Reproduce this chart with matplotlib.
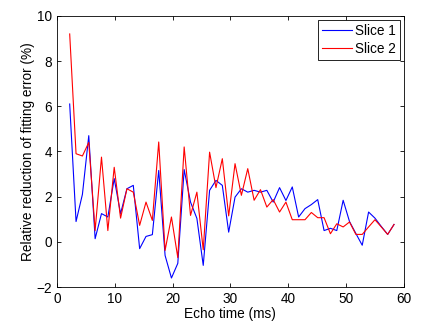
import numpy as np
import matplotlib
matplotlib.use("Agg")
import matplotlib.pyplot as plt

plt.rcParams['font.family'] = ['Liberation Sans', 'DejaVu Sans']

# echo times (ms)
echo_time = [1.1 * n for n in range(2, 54)]

# slice 1 (blue)
slice1 = [6.1, 0.9, 2.1, 4.7, 0.14, 1.25, 1.1, 2.8, 1.25, 2.35,
          2.5, -0.3, 0.24, 0.32, 3.16, -0.6, -1.6, -0.95, 3.2, 1.76,
          1.04, -1.04, 2.28, 2.72, 2.5, 0.43, 1.98, 2.35, 2.2, 2.28,
          2.2, 2.28, 1.76, 2.4, 1.83, 2.43, 1.1, 1.47, 1.65, 1.87,
          0.5, 0.6, 0.5, 1.84, 0.9, 0.37, -0.15, 1.32, 1.05, 0.68,
          0.33, 0.77]

# slice 2 (red)
slice2 = [9.2, 3.9, 3.8, 4.4, 0.5, 3.75, 0.5, 3.3, 1.05, 2.35,
          2.2, 0.73, 1.76, 0.95, 4.42, -0.38, 1.1, -0.7, 4.2, 1.17,
          2.2, -0.35, 3.97, 2.4, 3.68, 1.15, 3.46, 2.06, 3.24, 1.84,
          2.31, 1.54, 1.87, 1.32, 1.76, 0.98, 0.98, 0.98, 1.3, 1.07,
          1.07, 0.36, 0.8, 0.66, 0.88, 0.33, 0.33, 0.66, 0.98, 0.66,
          0.33, 0.77]

fig = plt.figure(figsize=(4.22, 3.24), dpi=100)
ax = fig.add_axes([0.135, 0.114, 0.822, 0.837])

ax.plot(echo_time, slice1, color='blue', lw=0.8, label='Slice 1')
ax.plot(echo_time, slice2, color='red', lw=0.8, label='Slice 2')

ax.set_xlim(0, 60)
ax.set_ylim(-2, 10)
ax.set_xticks(np.arange(0, 61, 10))
ax.set_yticks(np.arange(-2, 11, 2))
ax.tick_params(direction='in', top=True, right=True, labelsize=9.8, length=3, width=0.6)
for s in ax.spines.values():
    s.set_linewidth(0.6)

ax.set_xlabel('Echo time (ms)', fontsize=9.8, labelpad=1)
ax.set_ylabel('Relative reduction of fitting error (%)', fontsize=9.8, labelpad=1)

leg = ax.legend(loc='upper right', fontsize=9.8, fancybox=False, framealpha=1,
                edgecolor='black', borderaxespad=0.3, handlelength=2.2,
                handletextpad=0.2, borderpad=0.3, labelspacing=0.3)
leg.get_frame().set_linewidth(0.6)

fig.savefig('out.png', dpi=100)
